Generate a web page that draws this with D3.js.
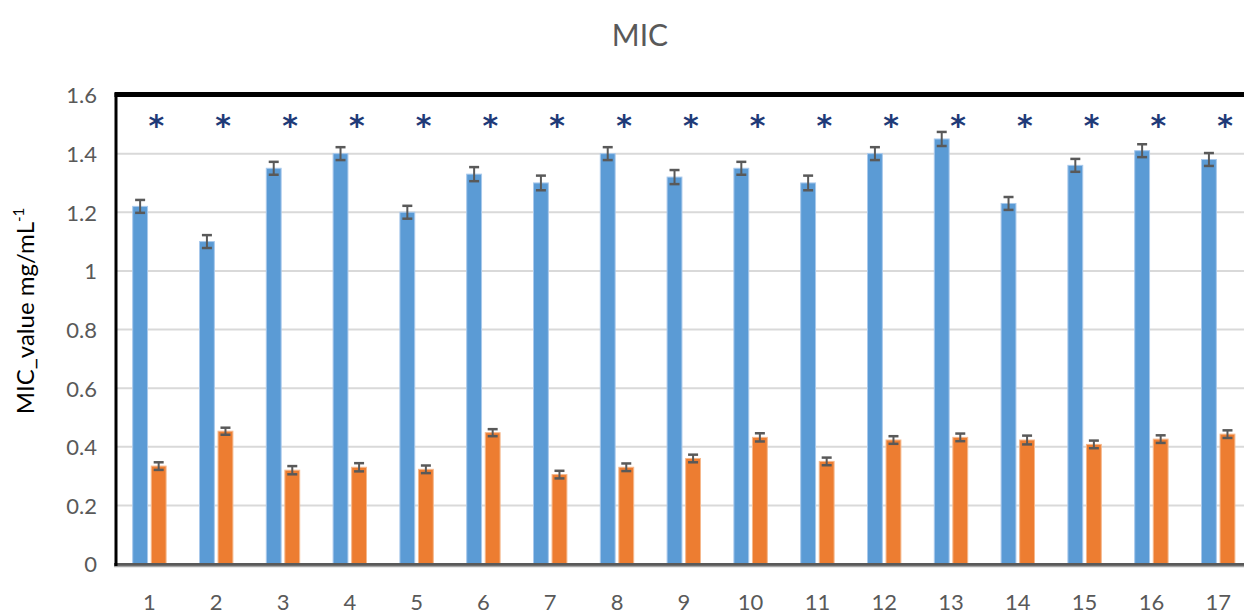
<!DOCTYPE html>
<html>
<head>
<meta charset="utf-8">
<script src="https://cdn.jsdelivr.net/npm/d3@7"></script>
<style>
  body { margin: 0; background: #fff; }
  svg { display: block; }
  .tick text { font-family: Lato, "Open Sans", sans-serif; fill: #595959; }
</style>
</head>
<body>
<svg id="chart" width="1244" height="614"></svg>
<script>
// chart data
var categories = ["1","2","3","4","5","6","7","8","9","10","11","12","13","14","15","16","17"];
var blueValues = [1.22, 1.10, 1.35, 1.40, 1.20, 1.33, 1.30, 1.40, 1.32, 1.35, 1.30, 1.40, 1.45, 1.23, 1.36, 1.41, 1.38];
var blueErrors = [0.022, 0.022, 0.022, 0.022, 0.022, 0.024, 0.025, 0.022, 0.024, 0.022, 0.025, 0.022, 0.024, 0.022, 0.022, 0.022, 0.022];
var orangeValues = [0.334, 0.453, 0.320, 0.330, 0.323, 0.448, 0.305, 0.330, 0.360, 0.432, 0.350, 0.423, 0.432, 0.423, 0.408, 0.426, 0.443];
var orangeErrors = [0.013, 0.012, 0.014, 0.014, 0.013, 0.012, 0.013, 0.013, 0.013, 0.014, 0.013, 0.013, 0.013, 0.015, 0.013, 0.013, 0.013];
var yTicks = [0, 0.2, 0.4, 0.6, 0.8, 1, 1.2, 1.4, 1.6];
var seriesKeys = ["blue", "orange"];

var svg = d3.select("#chart");
var plotLeft = 116, plotTop = 95, plotBottom = 564;
var step = 66.8;

var x = d3.scaleBand()
	.domain(categories)
	.range([plotLeft, plotLeft + categories.length * step])
	.paddingInner(0.5)
	.paddingOuter(0.25);

var xSub = d3.scaleBand()
	.domain(seriesKeys)
	.range([0, x.bandwidth()])
	.paddingInner(0.2);

var y = d3.scaleLinear()
	.domain([0, 1.6])
	.range([plotBottom, plotTop]);

var colors = {blue: "#5b9bd5", orange: "#ed7d31"};

// gridlines
svg.append("g")
	.selectAll("line")
	.data(yTicks.filter(function(d) { return d > 0 && d < 1.6; }))
	.enter()
	.append("line")
		.attr("x1", plotLeft)
		.attr("x2", 1244)
		.attr("y1", function(d) { return y(d); })
		.attr("y2", function(d) { return y(d); })
		.attr("stroke", "#d9d9d9")
		.attr("stroke-width", 2);

// y axis labels
var yAxis = svg.append("g")
	.attr("transform", "translate(" + (plotLeft - 19) + ",0)")
	.call(d3.axisLeft(y).tickValues(yTicks).tickSize(0).tickFormat(d3.format("~g")));
yAxis.select(".domain").remove();
yAxis.selectAll("text").attr("font-size", 22).attr("x", 0).attr("dy", "0.36em");

// x axis labels (cut at the lower edge, as in the original)
var xAxis = svg.append("g")
	.attr("transform", "translate(0," + plotBottom + ")")
	.call(d3.axisBottom(x).tickSize(0));
xAxis.select(".domain").remove();
xAxis.selectAll("text").attr("font-size", 22).attr("y", 46).attr("dy", 0);

// bars
var rows = categories.map(function(c, i) {
	return {cat: c, blue: blueValues[i], blueErr: blueErrors[i], orange: orangeValues[i], orangeErr: orangeErrors[i]};
});

var groups = svg.append("g")
	.selectAll("g")
	.data(rows)
	.enter()
	.append("g")
		.attr("transform", function(d) { return "translate(" + x(d.cat) + ",0)"; });

var bars = groups.selectAll("g.bar")
	.data(function(d) {
		return seriesKeys.map(function(k) { return {key: k, value: d[k], err: d[k + "Err"]}; });
	})
	.enter()
	.append("g")
		.attr("class", "bar");

bars.append("rect")
	.attr("x", function(d) { return xSub(d.key); })
	.attr("y", function(d) { return y(d.value); })
	.attr("width", xSub.bandwidth())
	.attr("height", function(d) { return y(0) - y(d.value); })
	.attr("fill", function(d) { return colors[d.key]; })
	.attr("stroke", function(d) { return d.key == "blue" ? "#a9c9ec" : "#f6b88c"; })
	.attr("stroke-width", 1);

// error bars
var cx = function(d) { return xSub(d.key) + xSub.bandwidth() / 2; };
bars.append("line")
	.attr("x1", cx).attr("x2", cx)
	.attr("y1", function(d) { return y(d.value + d.err); })
	.attr("y2", function(d) { return y(d.value - d.err); })
	.attr("stroke", "#595959").attr("stroke-width", 2);
[1, -1].forEach(function(s) {
	bars.append("line")
		.attr("x1", function(d) { return cx(d) - 5; })
		.attr("x2", function(d) { return cx(d) + 5; })
		.attr("y1", function(d) { return y(d.value + s * d.err); })
		.attr("y2", function(d) { return y(d.value + s * d.err); })
		.attr("stroke", "#595959").attr("stroke-width", 2.5);
});

// significance stars
groups.append("text")
	.attr("x", x.bandwidth() / 2 + 7)
	.attr("y", 136)
	.attr("text-anchor", "middle")
	.attr("font-family", "DejaVu Sans, sans-serif")
	.attr("font-weight", "bold")
	.attr("font-size", 30)
	.attr("fill", "#1f3a78")
	.text("*");

// frame: bottom axis, left axis, top border
svg.append("line")
	.attr("x1", plotLeft - 2).attr("x2", 1244)
	.attr("y1", plotBottom + 0.5).attr("y2", plotBottom + 0.5)
	.attr("stroke", "#595959").attr("stroke-width", 3);
svg.append("line")
	.attr("x1", plotLeft - 2).attr("x2", 1244)
	.attr("y1", plotBottom + 2.5).attr("y2", plotBottom + 2.5)
	.attr("stroke", "#a6a6a6").attr("stroke-width", 1.5);
svg.append("line")
	.attr("x1", plotLeft).attr("x2", plotLeft)
	.attr("y1", plotTop - 2).attr("y2", plotBottom + 2)
	.attr("stroke", "#000").attr("stroke-width", 3);
svg.append("line")
	.attr("x1", plotLeft - 1.5).attr("x2", 1244)
	.attr("y1", plotTop - 0.5).attr("y2", plotTop - 0.5)
	.attr("stroke", "#000").attr("stroke-width", 5);

// title
svg.append("text")
	.attr("x", 640)
	.attr("y", 46)
	.attr("text-anchor", "middle")
	.attr("font-family", "Lato, sans-serif")
	.attr("font-size", 30)
	.attr("fill", "#595959")
	.text("MIC");

// y axis title
var yTitle = svg.append("text")
	.attr("transform", "translate(34,311) rotate(-90)")
	.attr("text-anchor", "middle")
	.attr("font-family", "Lato, sans-serif")
	.attr("font-size", 24)
	.attr("fill", "#000");
yTitle.append("tspan").text("MIC_value mg/mL");
yTitle.append("tspan").attr("font-size", 15).attr("dy", -10).text("-1");
</script>
</body>
</html>
